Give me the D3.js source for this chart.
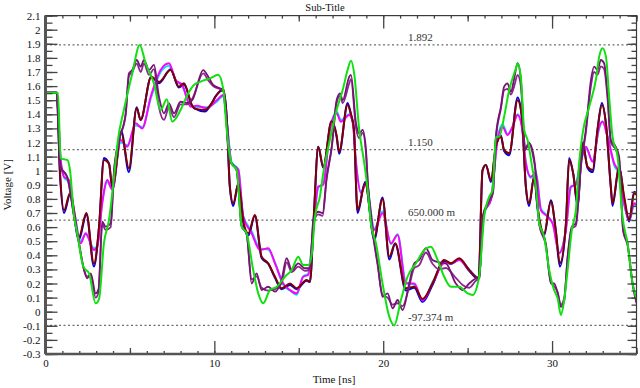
<!DOCTYPE html>
<html><head><meta charset="utf-8">
<script src="https://cdn.jsdelivr.net/npm/d3@7"></script>
<style>body{margin:0;background:#fff;}svg{display:block;}</style>
</head><body><svg id="c" width="640" height="388"></svg>
<script>
// ---- data ----
const titleText = "Sub-Title";
const xLabel = "Time [ns]";
const yLabel = "Voltage [V]";
const xMajorTicks = [0, 10, 20, 30];
const yMajorTicks = [-0.3,-0.2,-0.1,0,0.1,0.2,0.3,0.4,0.5,0.6,0.7,0.8,0.9,1,1.1,1.2,1.3,1.4,1.5,1.6,1.7,1.8,1.9,2,2.1];
const markerValues = [1.892, 1.150, 0.650, -0.097374];
const markerLabels = ["1.892", "1.150", "650.000 m", "-97.374 m"];

const green = [[0,1.553],[0.74,1.553],[0.90,1.088],[1.29,1.076],[1.45,1.005],[1.69,0.674],[1.88,0.556],[2.24,0.319],[2.58,0.272],[2.97,0.06],[3.17,0.09],[3.46,0.485],[3.76,0.65],[4.06,0.957],[4.29,1.218],[4.64,1.43],[5.14,1.69],[5.58,1.892],[5.93,1.762],[6.42,1.62],[6.82,1.43],[7.18,1.506],[7.51,1.348],[8.00,1.43],[8.40,1.537],[8.79,1.608],[9.15,1.63],[9.74,1.655],[10.23,1.68],[10.53,1.577],[10.73,1.29],[11.02,1.052],[11.32,1.005],[11.62,0.603],[11.91,0.556],[12.30,0.296],[12.60,0.13],[12.90,0.06],[13.29,0.154],[13.69,0.177],[14.18,0.248],[14.58,0.296],[14.97,0.39],[15.26,0.331],[15.56,0.331],[15.76,0.40],[15.96,0.674],[16.25,0.816],[16.45,0.982],[16.84,1.218],[17.24,1.43],[17.60,1.572],[17.89,1.714],[18.09,1.78],[18.28,1.69],[18.58,1.289],[18.88,1.052],[19.08,0.863],[19.27,0.627],[19.57,0.485],[19.96,0.2],[20.36,-0.035],[20.65,-0.097],[21.05,0.083],[21.44,0.248],[21.94,0.343],[22.43,0.438],[22.82,0.461],[23.22,0.367],[23.61,0.248],[24.01,0.177],[24.50,0.177],[25.00,0.13],[25.29,0.118],[25.68,0.248],[25.98,0.674],[26.28,0.816],[26.48,0.863],[26.67,1.24],[26.87,1.24],[27.16,1.383],[27.46,1.572],[27.86,1.726],[27.96,1.762],[28.15,1.667],[28.35,1.289],[28.55,1.218],[28.85,1.005],[29.04,0.887],[29.24,0.627],[29.53,0.532],[29.83,0.296],[30.12,0.154],[30.33,0.095],[30.52,-0.023],[30.72,0.083],[30.92,0.296],[31.17,0.58],[31.41,0.72],[31.60,1.052],[31.81,1.265],[32.20,1.454],[32.59,1.643],[32.79,1.809],[32.99,1.868],[33.19,1.809],[33.38,1.525],[33.58,1.241],[33.88,1.099],[34.17,0.674],[34.47,0.485],[34.77,0.2],[35,0.09]];

const purple = [[0,1.553],[0.66,1.553],[0.90,1.03],[1.29,0.957],[1.69,0.674],[1.98,0.485],[2.28,0.296],[2.47,0.237],[2.68,0.272],[2.97,0.13],[3.14,0.16],[3.36,0.638],[3.56,0.603],[3.86,0.627],[4.06,1.005],[4.35,1.218],[4.75,1.407],[4.94,1.69],[5.14,1.714],[5.40,1.785],[5.64,1.738],[5.83,1.785],[6.13,1.714],[6.42,1.75],[6.72,1.525],[7.02,1.407],[7.31,1.478],[7.61,1.407],[8.00,1.489],[8.40,1.48],[8.69,1.50],[9.34,1.714],[9.64,1.667],[9.93,1.608],[10.53,1.572],[10.92,1.076],[11.32,1.005],[11.62,0.603],[11.91,0.556],[12.21,0.2],[12.50,0.272],[12.80,0.154],[13.19,0.177],[13.59,0.142],[13.98,0.225],[14.28,0.379],[14.58,0.296],[14.97,0.343],[15.36,0.308],[15.66,0.31],[15.86,0.65],[16.15,0.709],[16.41,0.70],[16.65,0.957],[16.95,1.17],[17.24,1.50],[17.44,1.549],[17.60,1.50],[17.99,1.667],[18.09,1.68],[18.39,1.336],[18.58,1.265],[18.78,1.289],[18.98,1.147],[19.08,0.934],[19.37,0.58],[19.67,0.343],[19.96,0.106],[20.26,0.13],[20.56,0.024],[20.85,0.083],[21.15,0.012],[21.54,0.2],[21.84,0.343],[22.13,0.367],[22.53,0.45],[22.92,0.367],[23.32,0.35],[23.71,0.343],[24.30,0.2],[24.70,0.154],[25.09,0.2],[25.49,0.237],[25.70,0.25],[25.88,0.674],[26.28,0.792],[26.50,0.85],[26.67,1.241],[26.97,1.454],[27.16,1.596],[27.36,1.62],[27.56,1.56],[27.76,1.655],[27.96,1.762],[28.15,1.65],[28.41,1.147],[28.64,1.194],[28.83,1.15],[29.04,0.982],[29.24,0.627],[29.63,0.485],[29.93,0.2],[30.12,0.20],[30.33,0.13],[30.52,0.035],[30.72,0.08],[30.92,0.39],[31.17,0.603],[31.41,0.627],[31.71,1.052],[32.00,1.289],[32.30,1.643],[32.49,1.738],[32.69,1.714],[32.89,1.785],[33.08,1.762],[33.28,1.55],[33.48,1.218],[33.77,1.17],[33.97,1.099],[34.21,0.58],[34.47,0.485],[34.77,0.2],[35,0.07]];

const purple2 = [[0,1.553],[0.66,1.553],[0.90,1.02],[1.29,0.95],[1.69,0.68],[1.98,0.49],[2.28,0.30],[2.47,0.25],[2.68,0.26],[2.97,0.10],[3.14,0.14],[3.36,0.62],[3.56,0.58],[3.86,0.60],[4.06,0.99],[4.35,1.21],[4.75,1.40],[4.94,1.67],[5.14,1.70],[5.40,1.76],[5.64,1.70],[5.83,1.76],[6.13,1.68],[6.42,1.72],[6.72,1.45],[7.02,1.36],[7.31,1.45],[7.61,1.38],[8.00,1.47],[8.40,1.47],[8.69,1.51],[9.34,1.69],[9.64,1.64],[9.93,1.60],[10.53,1.565],[10.92,1.07],[11.32,1.00],[11.62,0.61],[11.91,0.55],[12.21,0.23],[12.50,0.25],[12.80,0.17],[13.19,0.15],[13.59,0.16],[13.98,0.20],[14.28,0.35],[14.58,0.28],[14.97,0.32],[15.36,0.29],[15.66,0.30],[15.86,0.62],[16.15,0.69],[16.41,0.68],[16.65,0.94],[16.95,1.16],[17.24,1.48],[17.44,1.53],[17.60,1.48],[17.99,1.62],[18.09,1.65],[18.39,1.30],[18.58,1.23],[18.78,1.27],[18.98,1.12],[19.08,0.92],[19.37,0.57],[19.67,0.33],[19.96,0.12],[20.26,0.10],[20.56,0.05],[20.85,0.06],[21.15,0.04],[21.54,0.18],[21.84,0.31],[22.13,0.33],[22.53,0.42],[22.92,0.34],[23.32,0.30],[23.71,0.31],[24.30,0.24],[24.70,0.19],[25.09,0.17],[25.49,0.22],[25.70,0.24],[25.88,0.66],[26.28,0.78],[26.50,0.84],[26.67,1.22],[26.97,1.44],[27.16,1.57],[27.36,1.58],[27.56,1.54],[27.76,1.60],[27.96,1.68],[28.15,1.60],[28.41,1.16],[28.64,1.20],[28.83,1.13],[29.04,0.97],[29.24,0.62],[29.63,0.47],[29.93,0.21],[30.12,0.18],[30.33,0.14],[30.52,0.05],[30.72,0.10],[30.92,0.38],[31.17,0.59],[31.41,0.61],[31.71,1.03],[32.00,1.27],[32.30,1.60],[32.49,1.70],[32.69,1.68],[32.89,1.74],[33.08,1.72],[33.28,1.52],[33.48,1.20],[33.77,1.15],[33.97,1.08],[34.21,0.57],[34.47,0.47],[34.77,0.19],[35,0.06]];

const maroon = [[0,1.553],[0.66,1.553],[0.86,0.98],[1.10,0.72],[1.45,0.84],[1.98,0.53],[2.42,0.70],[2.87,0.34],[3.17,0.60],[3.46,1.076],[3.76,1.05],[3.96,0.887],[4.49,1.265],[4.94,1.017],[5.40,1.443],[5.63,1.36],[6.26,1.667],[6.72,1.63],[7.41,1.714],[7.90,1.596],[8.20,1.62],[8.69,1.46],[8.85,1.44],[9.44,1.43],[9.80,1.47],[10.09,1.53],[10.53,1.577],[10.73,1.38],[10.92,0.886],[11.12,0.769],[11.42,0.91],[11.75,0.62],[12.01,0.556],[12.40,0.686],[12.80,0.39],[13.19,0.343],[13.59,0.248],[13.98,0.166],[14.48,0.2],[14.87,0.166],[15.46,0.225],[15.66,0.213],[15.90,0.70],[16.15,1.17],[16.45,1.03],[16.94,1.35],[17.24,1.25],[17.39,1.135],[17.89,1.466],[18.09,1.40],[18.26,1.30],[18.48,0.72],[18.93,0.91],[19.47,0.53],[19.96,0.80],[20.36,0.39],[20.71,0.485],[21.34,0.166],[21.84,0.177],[22.33,0.09],[22.92,0.2],[23.61,0.367],[24.01,0.343],[24.50,0.379],[25.09,0.296],[25.65,0.237],[25.88,1.005],[26.08,1.04],[26.38,0.934],[26.67,1.17],[26.97,1.24],[27.16,1.147],[27.46,1.123],[27.96,1.50],[28.21,1.383],[28.45,0.887],[28.64,0.769],[28.94,0.957],[29.14,0.745],[29.53,0.556],[29.93,0.78],[30.22,0.58],[30.46,0.343],[30.82,0.627],[31.01,1.076],[31.25,0.982],[31.51,0.769],[31.81,1.194],[32.10,1.029],[32.40,1.005],[32.69,1.289],[32.95,1.466],[33.19,1.336],[33.48,0.887],[33.58,0.769],[33.97,1.029],[34.27,0.816],[34.57,0.65],[34.86,0.84],[35,0.83]];

const blue = [[0,1.553],[0.66,1.553],[0.86,0.97],[1.10,0.70],[1.45,0.83],[1.98,0.51],[2.42,0.69],[2.87,0.32],[3.17,0.60],[3.46,1.09],[3.76,1.05],[3.96,0.87],[4.49,1.28],[4.94,0.99],[5.40,1.45],[5.63,1.36],[6.26,1.667],[6.72,1.62],[7.41,1.72],[7.90,1.59],[8.20,1.61],[8.69,1.46],[8.85,1.44],[9.44,1.42],[9.80,1.47],[10.09,1.53],[10.53,1.57],[10.73,1.38],[10.92,0.88],[11.12,0.75],[11.42,0.91],[11.75,0.61],[12.01,0.54],[12.40,0.68],[12.80,0.38],[13.19,0.34],[13.59,0.24],[13.98,0.16],[14.48,0.19],[14.87,0.16],[15.46,0.22],[15.66,0.21],[15.90,0.70],[16.15,1.17],[16.45,1.02],[16.94,1.35],[17.24,1.24],[17.39,1.12],[17.89,1.48],[18.09,1.40],[18.26,1.30],[18.48,0.70],[18.93,0.92],[19.47,0.51],[19.96,0.81],[20.36,0.37],[20.71,0.48],[21.34,0.15],[21.84,0.17],[22.33,0.07],[22.92,0.19],[23.61,0.36],[24.01,0.34],[24.50,0.37],[25.09,0.29],[25.65,0.23],[25.88,1.00],[26.08,1.04],[26.38,0.92],[26.67,1.17],[26.97,1.25],[27.16,1.14],[27.46,1.11],[27.96,1.52],[28.21,1.38],[28.45,0.88],[28.64,0.75],[28.94,0.96],[29.14,0.73],[29.53,0.54],[29.93,0.79],[30.22,0.57],[30.46,0.32],[30.82,0.62],[31.01,1.09],[31.25,0.98],[31.51,0.75],[31.81,1.20],[32.10,1.02],[32.40,0.99],[32.69,1.29],[32.95,1.48],[33.19,1.33],[33.48,0.88],[33.58,0.75],[33.97,1.03],[34.27,0.80],[34.57,0.64],[34.86,0.85],[35,0.84]];

const magenta = [[0,1.553],[0.66,1.553],[0.90,1.076],[1.10,0.957],[1.39,0.934],[1.69,0.72],[2.08,0.485],[2.38,0.556],[2.87,0.438],[3.07,0.461],[3.36,0.769],[3.66,0.934],[3.96,0.863],[4.45,1.218],[4.84,1.17],[5.34,1.336],[5.73,1.30],[6.23,1.525],[6.82,1.714],[7.31,1.762],[7.71,1.643],[8.10,1.608],[8.60,1.454],[8.95,1.46],[9.54,1.443],[10.14,1.50],[10.53,1.537],[10.73,1.35],[11.02,1.052],[11.42,1.005],[11.71,0.674],[12.21,0.556],[12.70,0.438],[13.19,0.45],[13.59,0.343],[14.08,0.2],[14.48,0.154],[14.87,0.13],[15.26,0.248],[15.56,0.26],[15.84,0.55],[16.15,0.887],[16.45,0.90],[16.84,1.29],[17.24,1.407],[17.49,1.348],[17.99,1.395],[18.20,1.34],[18.39,1.052],[18.69,0.84],[18.98,0.91],[19.47,0.58],[19.96,0.698],[20.46,0.485],[20.85,0.544],[21.34,0.2],[21.84,0.2],[22.33,0.08],[22.92,0.2],[23.61,0.343],[24.01,0.343],[24.50,0.367],[25.09,0.296],[25.65,0.237],[25.96,0.70],[26.38,0.792],[26.77,1.218],[27.07,1.312],[27.36,1.253],[27.66,1.312],[27.96,1.395],[28.21,1.312],[28.45,1.052],[28.74,0.957],[29.04,0.982],[29.34,0.72],[29.73,0.674],[30.05,0.62],[30.42,0.414],[30.82,0.58],[31.11,0.887],[31.41,0.90],[31.71,1.076],[32.00,1.17],[32.40,1.064],[32.79,1.312],[32.99,1.348],[33.28,1.241],[33.68,1.052],[33.97,0.982],[34.27,0.769],[34.57,0.65],[34.86,0.769],[35,0.76]];

const cyan = [[0,1.553],[0.66,1.553],[0.90,1.07],[1.10,0.95],[1.39,0.92],[1.69,0.72],[2.08,0.50],[2.38,0.55],[2.87,0.45],[3.07,0.47],[3.36,0.78],[3.66,0.92],[3.96,0.87],[4.45,1.20],[4.84,1.18],[5.34,1.32],[5.73,1.31],[6.23,1.51],[6.82,1.70],[7.31,1.745],[7.71,1.64],[8.10,1.60],[8.60,1.46],[8.95,1.45],[9.54,1.45],[10.14,1.49],[10.53,1.53],[10.73,1.36],[11.02,1.06],[11.42,1.01],[11.71,0.68],[12.21,0.57],[12.70,0.45],[13.19,0.44],[13.59,0.35],[14.08,0.19],[14.48,0.15],[14.87,0.12],[15.26,0.25],[15.56,0.27],[15.84,0.56],[16.15,0.88],[16.45,0.91],[16.84,1.28],[17.24,1.42],[17.49,1.36],[17.99,1.40],[18.20,1.34],[18.39,1.06],[18.69,0.85],[18.98,0.92],[19.47,0.59],[19.96,0.71],[20.46,0.48],[20.85,0.55],[21.34,0.21],[21.84,0.19],[22.33,0.07],[22.92,0.21],[23.61,0.35],[24.01,0.34],[24.50,0.37],[25.09,0.30],[25.65,0.24],[25.96,0.69],[26.38,0.80],[26.77,1.23],[27.07,1.33],[27.36,1.26],[27.66,1.31],[27.96,1.40],[28.21,1.32],[28.45,1.06],[28.74,0.95],[29.04,0.99],[29.34,0.73],[29.73,0.68],[30.05,0.62],[30.42,0.42],[30.82,0.59],[31.11,0.88],[31.41,0.91],[31.71,1.07],[32.00,1.16],[32.40,1.07],[32.79,1.30],[32.99,1.35],[33.28,1.25],[33.68,1.04],[33.97,0.97],[34.27,0.76],[34.57,0.64],[34.86,0.76],[35,0.75]];

const seriesList = [
  {name: "cyan", values: cyan, color: "#00e5ee", w: 2},
  {name: "blue", values: blue, color: "#0000ee", w: 2},
  {name: "magenta", values: magenta, color: "#ff00ff", w: 2},
  {name: "maroon", values: maroon, color: "#800000", w: 2},
  {name: "purple2", values: purple2, color: "#8c2a8c", w: 1.8},
  {name: "purple", values: purple, color: "#761476", w: 1.8},
  {name: "green", values: green, color: "#10e010", w: 2}
];

// ---- layout ----
const svg = d3.select("#c");
const L = 45.5, R = 636.5, T = 15.6, B = 354;
const x = d3.scaleLinear().domain([0, 35]).range([L, R]);
const y = d3.scaleLinear().domain([-0.3, 2.1]).range([B, T]);
const font = "'Liberation Serif','Times New Roman',serif";

svg.append("rect").attr("width", 640).attr("height", 388).attr("fill", "#fff");

svg.append("clipPath").attr("id", "clip").append("rect")
  .attr("x", L).attr("y", T).attr("width", R - L).attr("height", B - T);

// marker lines
const mk = svg.append("g");
markerValues.forEach((v, i) => {
  mk.append("line").attr("x1", L).attr("x2", R).attr("y1", y(v)).attr("y2", y(v))
    .attr("stroke", "#6e6e6e").attr("stroke-width", 1.2).attr("stroke-dasharray", "2,2.5");
  mk.append("text").attr("x", 408).attr("y", y(v) - 4).text(markerLabels[i])
    .attr("font-family", font).attr("font-size", 11).attr("fill", "#333");
});

// lines
const line = d3.line().x(d => x(d[0])).y(d => y(d[1])).curve(d3.curveMonotoneX);
const lg = svg.append("g").attr("clip-path", "url(#clip)");
seriesList.forEach(s => {
  lg.append("path").datum(s.values).attr("d", line).attr("fill", "none")
    .attr("stroke", s.color).attr("stroke-width", s.w).attr("stroke-linejoin", "round");
});

// axes
const axColor = "#444";
function styleAxis(g) {
  g.select(".domain").remove();
  g.selectAll("line").attr("stroke", axColor).attr("stroke-width", 1.3);
  g.selectAll("text").attr("font-family", font).attr("font-size", 11).attr("fill", "#111");
}
const yMinor = d3.range(-30, 211, 5).map(v => v / 100);
const xMinor = d3.range(0, 36, 1);
const xMid = [5, 15, 25, 35];
const fmtY = d => String(+d.toFixed(1));

svg.append("g").attr("transform", `translate(${L},0)`)
  .call(d3.axisLeft(y).tickValues(yMinor).tickSize(-7).tickFormat("")).call(styleAxis);
svg.append("g").attr("transform", `translate(${L},0)`)
  .call(d3.axisLeft(y).tickValues(yMajorTicks).tickSize(-12).tickPadding(5).tickFormat(fmtY)).call(styleAxis);
svg.append("g").attr("transform", `translate(${R},0)`)
  .call(d3.axisRight(y).tickValues(yMinor).tickSize(-5).tickFormat("")).call(styleAxis);
svg.append("g").attr("transform", `translate(${R},0)`)
  .call(d3.axisRight(y).tickValues(yMajorTicks).tickSize(-9).tickFormat("")).call(styleAxis);
svg.append("g").attr("transform", `translate(0,${B})`)
  .call(d3.axisBottom(x).tickValues(xMinor).tickSize(-3).tickFormat("")).call(styleAxis);
svg.append("g").attr("transform", `translate(0,${B})`)
  .call(d3.axisBottom(x).tickValues(xMid).tickSize(-6).tickFormat("")).call(styleAxis);
svg.append("g").attr("transform", `translate(0,${B})`)
  .call(d3.axisBottom(x).tickValues(xMajorTicks).tickSize(-13).tickPadding(5).tickFormat(d3.format("d"))).call(styleAxis);
svg.append("g").attr("transform", `translate(0,${T})`)
  .call(d3.axisTop(x).tickValues(xMinor).tickSize(-3).tickFormat("")).call(styleAxis);
svg.append("g").attr("transform", `translate(0,${T})`)
  .call(d3.axisTop(x).tickValues(xMid).tickSize(-6).tickFormat("")).call(styleAxis);
svg.append("g").attr("transform", `translate(0,${T})`)
  .call(d3.axisTop(x).tickValues(xMajorTicks).tickSize(-13).tickFormat("")).call(styleAxis);

// frame
svg.append("rect").attr("x", L).attr("y", T).attr("width", R - L).attr("height", B - T)
  .attr("fill", "none").attr("stroke", "#3a3a3a").attr("stroke-width", 1.2);
svg.append("line").attr("x1", L).attr("x2", L).attr("y1", T).attr("y2", B)
  .attr("stroke", "#555").attr("stroke-width", 3);
svg.append("line").attr("x1", L).attr("x2", R).attr("y1", B).attr("y2", B)
  .attr("stroke", "#555").attr("stroke-width", 2.5);

// titles
svg.append("text").attr("x", 325).attr("y", 11).attr("text-anchor", "middle")
  .attr("font-family", font).attr("font-size", 10.5).attr("fill", "#111").text(titleText);
svg.append("text").attr("x", 334).attr("y", 383).attr("text-anchor", "middle")
  .attr("font-family", font).attr("font-size", 11).attr("fill", "#111").text(xLabel);
svg.append("text").attr("transform", `translate(11,${(T + B) / 2}) rotate(-90)`).attr("text-anchor", "middle")
  .attr("font-family", font).attr("font-size", 11).attr("fill", "#111").text(yLabel);
</script></body></html>
